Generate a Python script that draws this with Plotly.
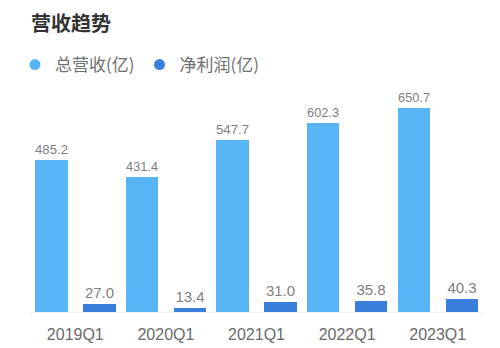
import plotly.graph_objects as go

# Quarterly figures, in 亿 (hundred million yuan)
quarters = ["2019Q1", "2020Q1", "2021Q1", "2022Q1", "2023Q1"]
revenue = [485.2, 431.4, 547.7, 602.3, 650.7]
net_profit = [27.0, 13.4, 31.0, 35.8, 40.3]

series_names = ["总营收(亿)", "净利润(亿)"]
colors = ["#58B5F3", "#3A7EDC"]

font_family = "Liberation Sans, Noto Sans CJK SC, sans-serif"

fig = go.Figure()

bar_width = 0.357
offsets = [-0.443, 0.087]
for values, name, color, off in zip([revenue, net_profit], series_names, colors, offsets):
    fig.add_trace(go.Bar(
        x=quarters,
        y=values,
        name=name,
        marker=dict(color=color, line=dict(width=0)),
        width=bar_width,
        offset=off,
        texttemplate="%{y:.1f}",
        textposition="outside",
        textfont=dict(size=15, color="#808080", family=font_family),
        cliponaxis=False,
        showlegend=False,
    ))

# round legend markers
for name, color in zip(series_names, colors):
    fig.add_trace(go.Scatter(
        x=[None], y=[None], mode="markers", name=name,
        marker=dict(symbol="circle", size=11, color=color),
    ))

fig.update_layout(
    width=500,
    height=348,
    margin=dict(l=30, r=17, t=92, b=36),
    paper_bgcolor="white",
    plot_bgcolor="white",
    font=dict(family=font_family, color="#666666"),
    title=dict(
        text="<b>营收趋势</b>",
        x=0.062, xanchor="left",
        y=0.931, yanchor="middle",
        font=dict(size=20, color="#333333", family="Noto Sans CJK SC"),
    ),
    legend=dict(
        orientation="h",
        xref="container", yref="container",
        x=0.03, xanchor="left",
        y=1 - 65 / 348, yanchor="middle",
        font=dict(size=17, color="#707070", family="Noto Sans CJK SC"),
        itemwidth=30,
    ),
    xaxis=dict(
        type="category",
        range=[-0.5, 4.5],
        automargin=False,
        showgrid=False,
        showline=True,
        linecolor="#eeeeee",
        linewidth=1,
        ticks="outside",
        ticklen=8,
        tickcolor="rgba(0,0,0,0)",
        tickfont=dict(size=16, color="#6a6a6a"),
    ),
    yaxis=dict(
        range=[0, 702],
        visible=False,
        showgrid=False,
    ),
    bargap=0,
)

fig.write_html("out.html")
